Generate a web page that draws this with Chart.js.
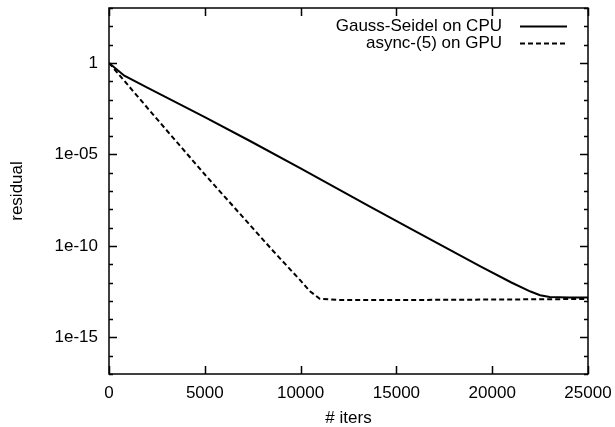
<!DOCTYPE html>
<html>
<head>
<meta charset="utf-8">
<script src="https://cdn.jsdelivr.net/npm/chart.js@4/dist/chart.umd.min.js"></script>
<style>
  html, body { margin: 0; padding: 0; background: #fff; }
  canvas { display: block; }
</style>
</head>
<body>
<canvas id="myChart" width="615" height="427"></canvas>
<script>
// residual vs iterations
const gsIters = [0, 800, 2000, 5000, 7360, 10000, 13620, 16000, 19360, 21000, 22000, 22500, 23000, 24000, 25000];
const gsResidual = [1, 0.2, 0.045, 1.1e-3, 5.4e-5, 1.7e-6, 1.4e-8, 6.3e-10, 7.8e-12, 1e-12, 3.2e-13, 2e-13, 1.6e-13, 1.5e-13, 1.5e-13];

const asyncIters = [0, 2660, 5000, 8580, 10000, 10490, 11000, 12000, 15000, 20000, 25000];
const asyncResidual = [1, 5.5e-4, 8e-7, 5.1e-11, 1.26e-12, 3.3e-13, 1.3e-13, 1.1e-13, 1.1e-13, 1.17e-13, 1.26e-13];

const seriesLabels = ['Gauss-Seidel on CPU', 'async-(5) on GPU'];
const xTickValues = [0, 5000, 10000, 15000, 20000, 25000];
const yTickValues = [1, 1e-5, 1e-10, 1e-15];
const yTickLabels = ['1', '1e-05', '1e-10', '1e-15'];

const FONT = { family: '"Liberation Sans", Arial, Helvetica, sans-serif', size: 17 };
const fontStr = '17px "Liberation Sans", Arial, Helvetica, sans-serif';

// no extra room for half tick labels, the plot box is fixed by layout padding
function noPad(s) {
  s.paddingTop = 0; s.paddingBottom = 0; s.paddingLeft = 0; s.paddingRight = 0;
}

// gnuplot-style frame with inward ticks on all four sides
const framePlugin = {
  id: 'frame',
  afterDraw(chart) {
    const { ctx, chartArea: { left, right, top, bottom }, scales: { x, y } } = chart;
    ctx.save();
    ctx.strokeStyle = '#000';
    ctx.lineWidth = 1.5;
    ctx.strokeRect(left, top, right - left, bottom - top);
    ctx.beginPath();
    xTickValues.forEach(v => {
      const px = Math.round(x.getPixelForValue(v)) + 0.5;
      ctx.moveTo(px, bottom); ctx.lineTo(px, bottom - 8);
      ctx.moveTo(px, top); ctx.lineTo(px, top + 8);
    });
    for (let e = -17; e <= 3; e++) {
      const py = Math.round(y.getPixelForValue(Math.pow(10, e))) + 0.5;
      const len = e % 5 === 0 ? 8 : 4;
      ctx.moveTo(left, py); ctx.lineTo(left + len, py);
      ctx.moveTo(right, py); ctx.lineTo(right - len, py);
    }
    ctx.stroke();
    ctx.restore();
  }
};

// legend in the top right corner: text right aligned, line sample after it
const keyPlugin = {
  id: 'key',
  afterDraw(chart) {
    const { ctx } = chart;
    ctx.save();
    ctx.font = fontStr;
    ctx.fillStyle = '#000';
    ctx.textAlign = 'right';
    ctx.textBaseline = 'middle';
    chart.data.datasets.forEach((ds, i) => {
      const ty = 26 + i * 17;
      ctx.fillText(ds.label, 502, ty);
      ctx.beginPath();
      ctx.setLineDash(ds.borderDash || []);
      ctx.lineWidth = ds.borderWidth;
      ctx.strokeStyle = ds.borderColor;
      ctx.moveTo(520, ty + 0.5);
      ctx.lineTo(567, ty + 0.5);
      ctx.stroke();
    });
    ctx.restore();
  }
};

const ctx = document.getElementById('myChart').getContext('2d');
const myChart = new Chart(ctx, {
  type: 'line',
  data: {
    datasets: [
      {
        label: seriesLabels[0],
        data: gsIters.map((v, i) => ({ x: v, y: gsResidual[i] })),
        borderColor: '#000',
        borderWidth: 2,
        pointRadius: 0,
        tension: 0,
        fill: false,
      },
      {
        label: seriesLabels[1],
        data: asyncIters.map((v, i) => ({ x: v, y: asyncResidual[i] })),
        borderColor: '#000',
        borderWidth: 2,
        borderDash: [5, 3],
        pointRadius: 0,
        tension: 0,
        fill: false,
      },
    ],
  },
  options: {
    responsive: false,
    animation: false,
    devicePixelRatio: 1,
    layout: { padding: { top: 8, right: 27, left: 0, bottom: 0 } },
    plugins: { legend: { display: false }, tooltip: { enabled: false } },
    scales: {
      x: {
        type: 'linear',
        min: 0,
        max: 25000,
        afterFit: s => { s.height = 53; noPad(s); },
        afterBuildTicks: s => { s.ticks = xTickValues.map(v => ({ value: v })); },
        ticks: {
          callback: v => String(v),
          font: FONT,
          color: '#000',
          padding: 9,
          maxRotation: 0,
          autoSkip: false,
        },
        grid: { display: false, drawTicks: false },
        border: { display: false },
        title: { display: true, text: '# iters', font: { ...FONT, lineHeight: 1 }, color: '#000', padding: { top: 0, bottom: 0 } },
      },
      y: {
        type: 'logarithmic',
        min: 1e-17,
        max: 1e3,
        afterFit: s => { s.width = 109; noPad(s); },
        afterBuildTicks: s => { s.ticks = yTickValues.map(v => ({ value: v })); },
        ticks: {
          callback: v => yTickLabels[yTickValues.indexOf(v)],
          font: FONT,
          color: '#000',
          padding: 11,
          autoSkip: false,
        },
        grid: { display: false, drawTicks: false },
        border: { display: false },
        title: { display: true, text: 'residual', font: { ...FONT, lineHeight: 1 }, color: '#000', padding: { top: 9, bottom: 0 } },
      },
    },
  },
  plugins: [framePlugin, keyPlugin],
});
</script>
</body>
</html>
